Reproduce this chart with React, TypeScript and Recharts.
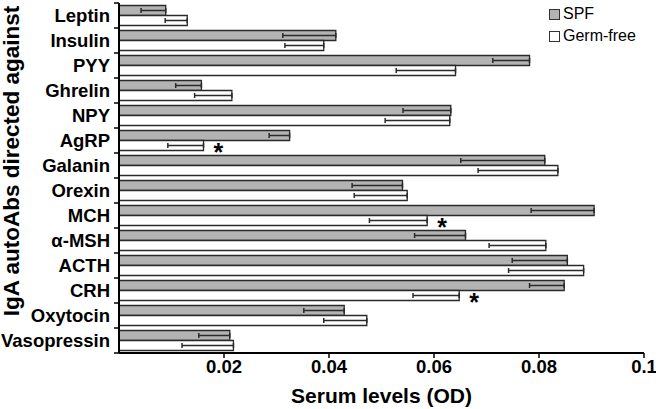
import {
  BarChart,
  Bar,
  XAxis,
  YAxis,
  ErrorBar,
  LabelList,
} from "recharts";

const hormones = [
  "Leptin",
  "Insulin",
  "PYY",
  "Ghrelin",
  "NPY",
  "AgRP",
  "Galanin",
  "Orexin",
  "MCH",
  "α-MSH",
  "ACTH",
  "CRH",
  "Oxytocin",
  "Vasopressin",
];

const spfMean = [0.0089, 0.0413, 0.0782, 0.0157, 0.0632, 0.0325, 0.0811, 0.054, 0.0905, 0.066, 0.0854, 0.0848, 0.0429, 0.0211];
const spfSem = [0.0047, 0.0101, 0.007, 0.0049, 0.0091, 0.0039, 0.016, 0.0096, 0.012, 0.0097, 0.0105, 0.0066, 0.0077, 0.0059];
const gfMean = [0.013, 0.039, 0.0641, 0.0215, 0.063, 0.0161, 0.0836, 0.0549, 0.0587, 0.0813, 0.0885, 0.0648, 0.0472, 0.0218];
const gfSem = [0.0042, 0.0074, 0.0113, 0.0071, 0.0123, 0.0068, 0.0152, 0.0101, 0.011, 0.0108, 0.0143, 0.0088, 0.0082, 0.0098];
const significant = ["", "", "", "", "", "*", "", "", "*", "", "", "*", "", ""];

const xTicks = [0.02, 0.04, 0.06, 0.08, 0.1];

const legendItems = [
  { label: "SPF", fill: "#b3b3b3" },
  { label: "Germ-free", fill: "#fff" },
];

const FONT = 'Arial, "Liberation Sans", sans-serif';
const W = 656;
const H = 409;
const PLOT_LEFT = 119;
const PLOT_TOP = 3;
const PLOT_BOTTOM = 353;
const BAND = (PLOT_BOTTOM - PLOT_TOP) / hormones.length;

// one-sided (downward) error bars, as in the figure
const data = hormones.map((name, i) => ({
  name,
  spf: spfMean[i],
  spfErr: [spfSem[i], 0],
  gf: gfMean[i],
  gfErr: [gfSem[i], 0],
  sig: significant[i],
}));

const CategoryTick = (props: any) => {
  const { y, payload, index } = props;
  return (
    <g>
      <text
        x={PLOT_LEFT - 9}
        y={y}
        textAnchor="end"
        dominantBaseline="central"
        fontFamily={FONT}
        fontWeight="bold"
        fontSize={18.5}
        fill="#000"
      >
        {payload.value}
      </text>
      <line x1={PLOT_LEFT - 5} x2={PLOT_LEFT} y1={y - BAND / 2} y2={y - BAND / 2} stroke="#000" strokeWidth={1.5} />
      {index === hormones.length - 1 && (
        <line x1={PLOT_LEFT - 5} x2={PLOT_LEFT} y1={y + BAND / 2} y2={y + BAND / 2} stroke="#000" strokeWidth={1.5} />
      )}
    </g>
  );
};

const Star = (props: any) => {
  const { x, y, width, height, value } = props;
  if (!value) return null;
  return (
    <text
      x={x + width + 10}
      y={y + height / 2 + 15}
      fontFamily={FONT}
      fontWeight="bold"
      fontSize={25}
      fill="#000"
    >
      {value}
    </text>
  );
};

export default function App() {
  return (
    <div style={{ position: "absolute", left: 0, top: 0, width: W, height: H, background: "#fff" }}>
      <BarChart
        width={W}
        height={H}
        data={data}
        layout="vertical"
        margin={{ top: PLOT_TOP, right: 12, bottom: 16, left: 0 }}
        barCategoryGap={2.5}
        barGap={0}
      >
        <XAxis
          type="number"
          domain={[0, 0.1]}
          ticks={xTicks}
          height={40}
          allowDataOverflow
          tick={{ fill: "#000", fontSize: 18.5, fontWeight: "bold", fontFamily: FONT }}
          tickSize={5}
          tickMargin={2}
          tickLine={{ stroke: "#000", strokeWidth: 1.5 }}
          axisLine={{ stroke: "#000", strokeWidth: 2 }}
          label={{
            content: (p: any) => {
              const vb = p.viewBox;
              return (
                <text
                  x={vb.x + vb.width / 2}
                  y={395}
                  textAnchor="middle"
                  dominantBaseline="central"
                  fontFamily={FONT}
                  fontWeight="bold"
                  fontSize={21}
                  fill="#000"
                >
                  Serum levels (OD)
                </text>
              );
            },
          }}
        />
        <YAxis
          type="category"
          dataKey="name"
          width={PLOT_LEFT}
          interval={0}
          tickLine={false}
          axisLine={{ stroke: "#000", strokeWidth: 2 }}
          tick={<CategoryTick />}
          label={{
            content: () => (
              <text
                x={19}
                y={161}
                transform="rotate(-90, 19, 161)"
                textAnchor="middle"
                fontFamily={FONT}
                fontWeight="bold"
                fontSize={22.5}
                fill="#000"
              >
                IgA autoAbs directed against
              </text>
            ),
          }}
        />
        <Bar dataKey="spf" name="SPF" fill="#b3b3b3" stroke="#2a2a2a" strokeWidth={1.3} isAnimationActive={false}>
          <ErrorBar dataKey="spfErr" direction="x" width={2.5} stroke="#2a2a2a" strokeWidth={1.5} />
        </Bar>
        <Bar dataKey="gf" name="Germ-free" fill="#fff" stroke="#2a2a2a" strokeWidth={1.3} isAnimationActive={false}>
          <ErrorBar dataKey="gfErr" direction="x" width={2.5} stroke="#2a2a2a" strokeWidth={1.5} />
          <LabelList dataKey="sig" content={<Star />} />
        </Bar>
      </BarChart>

      {/* legend sits in the top-right corner, outside the chart layout */}
      <div
        style={{
          position: "absolute",
          left: 549,
          top: 3,
          fontFamily: FONT,
          fontSize: 16,
          color: "#000",
          lineHeight: "22px",
        }}
      >
        {legendItems.map((d) => (
          <div key={d.label} style={{ display: "flex", alignItems: "center" }}>
            <span
              style={{
                display: "inline-block",
                width: 9,
                height: 9,
                background: d.fill,
                border: "1px solid #333",
                marginRight: 3,
              }}
            />
            {d.label}
          </div>
        ))}
      </div>
    </div>
  );
}
